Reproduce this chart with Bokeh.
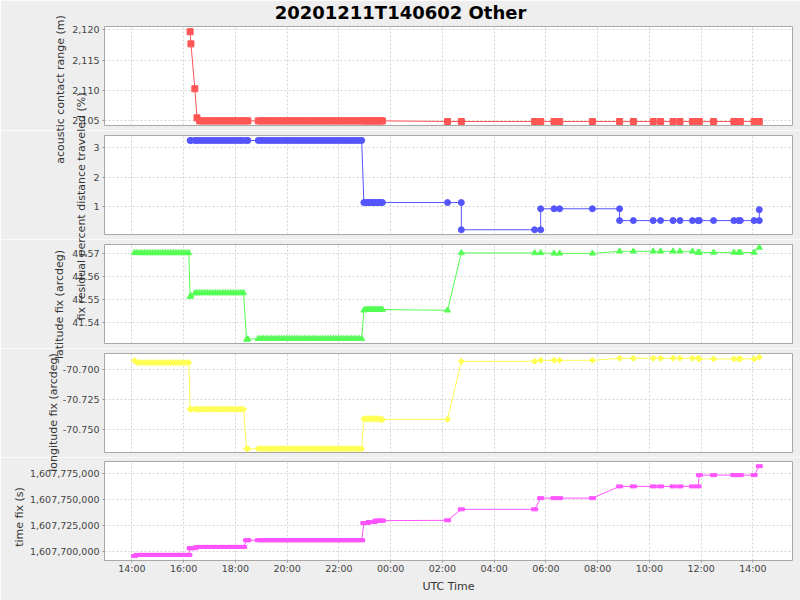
import pandas as pd
from math import pi
from bokeh.plotting import figure
from bokeh.layouts import column
from bokeh.models import (Range1d, LinearAxis, DatetimeAxis, Grid, SingleIntervalTicker,
                          NumeralTickFormatter, DatetimeTickFormatter, ColumnDataSource,
                          Label, GridBox)
from bokeh.embed import file_html
from bokeh.resources import INLINE

# ---------------- data ----------------
title_text = "20201211T140602 Other"
x_label = "UTC Time"
y_labels = ["acoustic contact range (m)",
            "fix residual percent distance traveled (%)",
            "latitude fix (arcdeg)",
            "longitude fix (arcdeg)",
            "time fix (s)"]

day1_times = [
    # A
    "14:06", "14:12", "14:18", "14:24", "14:30", "14:36", "14:42", "14:48", "14:54", "15:00",
    "15:06", "15:12", "15:18", "15:24", "15:30", "15:36", "15:42", "15:48", "15:54", "16:00",
    "16:06", "16:12",
    # B
    "16:15", "16:17", "16:26", "16:31", "16:37", "16:43", "16:49", "16:55", "17:01", "17:07",
    "17:13", "17:19", "17:25", "17:31", "17:37", "17:43", "17:49", "17:55", "18:01", "18:07",
    "18:13", "18:19",
    # C
    "18:26", "18:29",
    # D
    "18:53", "18:59", "19:05", "19:11", "19:17", "19:23", "19:29", "19:35", "19:41", "19:47",
    "19:53", "19:59", "20:05", "20:11", "20:17", "20:23", "20:29", "20:35", "20:41", "20:47",
    "20:53", "20:59", "21:05", "21:11", "21:17", "21:23", "21:29", "21:35", "21:41", "21:47",
    "21:53", "21:59", "22:05", "22:11", "22:17", "22:23", "22:29", "22:35", "22:41", "22:47",
    "22:53",
    # E
    "22:58", "23:02", "23:06", "23:10", "23:14", "23:18", "23:22", "23:26", "23:30", "23:34",
    "23:38", "23:41",
]
day2_times = [
    "02:12", "02:44", "05:34", "05:48", "06:19", "06:32", "07:48", "08:51", "09:23", "10:09",
    "10:26", "10:55", "11:11", "11:40", "11:53", "11:56", "12:29", "13:16", "13:27", "13:31",
    "14:03", "14:15",
]

range_m = [
    None, None, None, None, None, None, None, None, None, None,
    None, None, None, None, None, None, None, None, None, None,
    None, None,
    2119.7, 2117.7, 2110.3, 2105.5, 2105.0, 2105.0, 2105.0, 2105.0, 2105.0, 2105.0,
    2105.0, 2105.0, 2105.0, 2105.0, 2105.0, 2105.0, 2105.0, 2105.0, 2105.0, 2105.0,
    2105.0, 2105.0,
    2105.0, 2105.0,
    2105.0, 2105.0, 2105.0, 2105.0, 2105.0, 2105.0, 2105.0, 2105.0, 2105.0, 2105.0,
    2105.0, 2105.0, 2105.0, 2105.0, 2105.0, 2105.0, 2105.0, 2105.0, 2105.0, 2105.0,
    2105.0, 2105.0, 2105.0, 2105.0, 2105.0, 2105.0, 2105.0, 2105.0, 2105.0, 2105.0,
    2105.0, 2105.0, 2105.0, 2105.0, 2105.0, 2105.0, 2105.0, 2105.0, 2105.0, 2105.0,
    2105.0,
    2105.0, 2105.0, 2105.0, 2105.0, 2105.0, 2105.0, 2105.0, 2105.0, 2105.0, 2105.0,
    2105.0, 2105.0,
    2104.9, 2104.9, 2104.9, 2104.9, 2104.9, 2104.9, 2104.9, 2104.9, 2104.9, 2104.9,
    2104.9, 2104.9, 2104.9, 2104.9, 2104.9, 2104.9, 2104.9, 2104.9, 2104.9, 2104.9,
    2104.9, 2104.9,
]

pct = [
    None, None, None, None, None, None, None, None, None, None,
    None, None, None, None, None, None, None, None, None, None,
    None, None,
    3.24, 3.24, 3.24, 3.24, 3.24, 3.24, 3.24, 3.24, 3.24, 3.24,
    3.24, 3.24, 3.24, 3.24, 3.24, 3.24, 3.24, 3.24, 3.24, 3.24,
    3.24, 3.24,
    3.24, 3.24,
    3.24, 3.24, 3.24, 3.24, 3.24, 3.24, 3.24, 3.24, 3.24, 3.24,
    3.24, 3.24, 3.24, 3.24, 3.24, 3.24, 3.24, 3.24, 3.24, 3.24,
    3.24, 3.24, 3.24, 3.24, 3.24, 3.24, 3.24, 3.24, 3.24, 3.24,
    3.24, 3.24, 3.24, 3.24, 3.24, 3.24, 3.24, 3.24, 3.24, 3.24,
    3.24,
    1.14, 1.14, 1.14, 1.14, 1.14, 1.14, 1.14, 1.14, 1.14, 1.14,
    1.14, 1.14,
    1.14, 1.14, 0.22, 0.22, 0.93, 0.93, 0.93, 0.93, 0.53, 0.53,
    0.53, 0.53, 0.53, 0.53, 0.53, 0.53, 0.53, 0.53, 0.53, 0.53,
    0.53, 0.53,
]
pct_extra_times = ["02:44", "05:48", "08:51", "14:15"]
pct_extra = [0.22, 0.93, 0.53, 0.90]

lat = [
    41.5705, 41.5704, 41.5704, 41.5704, 41.5704, 41.5704, 41.5704, 41.5704, 41.5704, 41.5704,
    41.5704, 41.5704, 41.5704, 41.5704, 41.5704, 41.5704, 41.5704, 41.5704, 41.5704, 41.5704,
    41.5704, 41.5704,
    41.5512, 41.5515, 41.5527, 41.5528, 41.5528, 41.5528, 41.5528, 41.5528, 41.5528, 41.5528,
    41.5528, 41.5528, 41.5528, 41.5528, 41.5528, 41.5528, 41.5528, 41.5528, 41.5528, 41.5528,
    41.5528, 41.5528,
    41.5324, 41.5325,
    41.5327, 41.5327, 41.5327, 41.5327, 41.5327, 41.5327, 41.5327, 41.5327, 41.5327, 41.5327,
    41.5327, 41.5327, 41.5327, 41.5327, 41.5327, 41.5327, 41.5327, 41.5327, 41.5327, 41.5327,
    41.5327, 41.5327, 41.5327, 41.5327, 41.5327, 41.5327, 41.5327, 41.5327, 41.5327, 41.5327,
    41.5327, 41.5327, 41.5327, 41.5327, 41.5327, 41.5327, 41.5327, 41.5327, 41.5327, 41.5327,
    41.5327,
    41.5452, 41.5455, 41.5455, 41.5455, 41.5455, 41.5455, 41.5455, 41.5455, 41.5455, 41.5455,
    41.5455, 41.5455,
    41.5452, 41.5704, 41.5704, 41.5704, 41.5702, 41.5702, 41.5702, 41.5711, 41.5711, 41.5711,
    41.5711, 41.5711, 41.5711, 41.5711, 41.5706, 41.5706, 41.5706, 41.5706, 41.5706, 41.5706,
    41.5706, 41.5728,
]

lon = [
    -70.6924, -70.6941, -70.6941, -70.6941, -70.6941, -70.6941, -70.6941, -70.6941, -70.6941, -70.6941,
    -70.6941, -70.6941, -70.6941, -70.6941, -70.6941, -70.6941, -70.6941, -70.6941, -70.6941, -70.6941,
    -70.6941, -70.6941,
    -70.7328, -70.7328, -70.7328, -70.7328, -70.7328, -70.7328, -70.7328, -70.7328, -70.7328, -70.7328,
    -70.7328, -70.7328, -70.7328, -70.7328, -70.7328, -70.7328, -70.7328, -70.7328, -70.7328, -70.7328,
    -70.7328, -70.7328,
    -70.7657, -70.7657,
    -70.7657, -70.7657, -70.7657, -70.7657, -70.7657, -70.7657, -70.7657, -70.7657, -70.7657, -70.7657,
    -70.7657, -70.7657, -70.7657, -70.7657, -70.7657, -70.7657, -70.7657, -70.7657, -70.7657, -70.7657,
    -70.7657, -70.7657, -70.7657, -70.7657, -70.7657, -70.7657, -70.7657, -70.7657, -70.7657, -70.7657,
    -70.7657, -70.7657, -70.7657, -70.7657, -70.7657, -70.7657, -70.7657, -70.7657, -70.7657, -70.7657,
    -70.7657,
    -70.7408, -70.7408, -70.7408, -70.7408, -70.7408, -70.7408, -70.7408, -70.7408, -70.7408, -70.7408,
    -70.7414, -70.7414,
    -70.7412, -70.6930, -70.6930, -70.6922, -70.6922, -70.6922, -70.6922, -70.6905, -70.6905, -70.6905,
    -70.6905, -70.6905, -70.6905, -70.6905, -70.6905, -70.6910, -70.6910, -70.6910, -70.6910, -70.6910,
    -70.6910, -70.6896,
]

tfix = [
    1607695770, 1607696730, 1607696730, 1607696730, 1607696730, 1607696730, 1607696730, 1607696730, 1607696730, 1607696730,
    1607696730, 1607696730, 1607696730, 1607696730, 1607696730, 1607696730, 1607696730, 1607696730, 1607696730, 1607696730,
    1607696730, 1607696730,
    1607703170, 1607703170, 1607703170, 1607704420, 1607704420, 1607704420, 1607704420, 1607704420, 1607704420, 1607704420,
    1607704420, 1607704420, 1607704420, 1607704420, 1607704420, 1607704420, 1607704420, 1607704420, 1607704420, 1607704420,
    1607704420, 1607704420,
    1607710870, 1607710870,
    1607710870, 1607710870, 1607710870, 1607710870, 1607710870, 1607710870, 1607710870, 1607710870, 1607710870, 1607710870,
    1607710870, 1607710870, 1607710870, 1607710870, 1607710870, 1607710870, 1607710870, 1607710870, 1607710870, 1607710870,
    1607710870, 1607710870, 1607710870, 1607710870, 1607710870, 1607710870, 1607710870, 1607710870, 1607710870, 1607710870,
    1607710870, 1607710870, 1607710870, 1607710870, 1607710870, 1607710870, 1607710870, 1607710870, 1607710870, 1607710870,
    1607710870,
    1607727500, 1607727500, 1607727500, 1607728460, 1607728460, 1607728460, 1607728460, 1607729800, 1607729800, 1607729800,
    1607729800, 1607729800,
    1607730100, 1607740700, 1607740700, 1607751500, 1607751500, 1607751500, 1607751500, 1607762800, 1607762800, 1607762800,
    1607762800, 1607762800, 1607762800, 1607762800, 1607762800, 1607773700, 1607773700, 1607773700, 1607773700, 1607773700,
    1607773700, 1607782300,
]

# ---------------- build ----------------
times = ([pd.Timestamp("2020-12-11 " + t) for t in day1_times] +
         [pd.Timestamp("2020-12-12 " + t) for t in day2_times])
for s in (range_m, pct, lat, lon, tfix):
    assert len(s) == len(times), len(s)


def series(vals):
    xs = [t for t, v in zip(times, vals) if v is not None]
    ys = [v for v in vals if v is not None]
    return ColumnDataSource(dict(x=pd.to_datetime(xs).values, y=ys))


extra = {pd.Timestamp("2020-12-12 " + t): v for t, v in zip(pct_extra_times, pct_extra)}
px, py = [], []
for t, v in zip(times, pct):
    if v is None:
        continue
    px.append(t); py.append(v)
    if t in extra:
        px.append(t); py.append(extra[t])
pct_src = ColumnDataSource(dict(x=pd.to_datetime(px).values, y=py))

FONT = "DejaVu Sans"
BG = "#EEEEEE"
GRID = "#D4D4D4"
OUTLINE = "#A8A8A8"
W = 800
H = 600
FRAME_L, FRAME_R = 104, 792
RED, BLUE, GREEN, YELLOW, MAGENTA = "#FF5555", "#5555FF", "#55FF55", "#FFFF55", "#FF55FF"

xr = Range1d(pd.Timestamp("2020-12-11 12:56:30").to_pydatetime(),
             pd.Timestamp("2020-12-12 15:32:00").to_pydatetime())
xt = SingleIntervalTicker(interval=2 * 3600 * 1000, num_minor_ticks=0)


def make_panel(height, top, bottom, y0, y1, step, fmt):
    p = figure(width=W, height=height, x_range=xr, y_range=Range1d(y0, y1),
               x_axis_type=None, y_axis_type=None, toolbar_location=None,
               output_backend="svg", min_border_left=FRAME_L, min_border_right=W - FRAME_R,
               min_border_top=top, min_border_bottom=bottom,
               background_fill_color="white", border_fill_color=BG,
               outline_line_color=OUTLINE, outline_line_width=1)
    yt = SingleIntervalTicker(interval=step, num_minor_ticks=0)
    ax = LinearAxis(ticker=yt, formatter=NumeralTickFormatter(format=fmt),
                    axis_line_color=None, major_tick_line_color="#999999",
                    major_tick_in=0, major_tick_out=2, minor_tick_line_color=None,
                    major_label_standoff=3, major_label_text_font=FONT,
                    major_label_text_font_size="9.5px", major_label_text_color="#444444")
    p.add_layout(ax, "left")
    p.add_layout(Grid(dimension=1, ticker=yt, grid_line_color=GRID, grid_line_dash="2 2"), "center")
    p.add_layout(Grid(dimension=0, ticker=xt, grid_line_color=GRID, grid_line_dash="2 2"), "center")
    return p


# panel frames (page px): 26-125, 135-234, 244-343, 353-452, 461-560
p1 = make_panel(130, 26, 5, 2104.24, 2120.56, 5, "0,0")
s1 = series(range_m)
p1.line("x", "y", source=s1, color=RED, line_width=1)
p1.scatter("x", "y", source=s1, marker="square", size=6, fill_color=RED, line_color=RED, line_width=1)

p2 = make_panel(109, 5, 5, 0.06, 3.407, 1, "0")
p2.line("x", "y", source=pct_src, color=BLUE, line_width=1)
p2.scatter("x", "y", source=pct_src, marker="circle", size=6, fill_color=BLUE, line_color=BLUE, line_width=1)

p3 = make_panel(109, 5, 5, 41.5306, 41.5741, 0.01, "0.00")
s3 = series(lat)
p3.line("x", "y", source=s3, color=GREEN, line_width=1)
p3.scatter("x", "y", source=s3, marker="triangle", size=6, fill_color=GREEN, line_color=GREEN, line_width=1)

p4 = make_panel(109, 5, 5, -70.7688, -70.6865, 0.025, "0.000")
s4 = series(lon)
p4.line("x", "y", source=s4, color=YELLOW, line_width=1)
p4.scatter("x", "y", source=s4, marker="square", size=4.3, angle=pi / 4,
           fill_color=YELLOW, line_color=YELLOW, line_width=1)

p5 = make_panel(143, 4, 40, 1607691350, 1607786830, 25000, "0,0")
s5 = series(tfix)
p5.line("x", "y", source=s5, color=MAGENTA, line_width=1)
p5.rect("x", "y", source=s5, width=6, height=3, width_units="screen", height_units="screen",
        fill_color=MAGENTA, line_color=MAGENTA, line_width=1)
xax = DatetimeAxis(ticker=xt,
                   formatter=DatetimeTickFormatter(hours="%H:%M", hourmin="%H:%M", days="%H:%M",
                                                   minutes="%H:%M", minsec="%H:%M"),
                   axis_label=x_label, axis_label_text_font=FONT,
                   axis_label_text_font_size="11px", axis_label_text_font_style="normal",
                   axis_label_text_color="#333333", axis_label_standoff=3,
                   axis_line_color=None, major_tick_line_color="#999999",
                   major_tick_in=0, major_tick_out=2, minor_tick_line_color=None,
                   major_label_standoff=0, major_label_text_font=FONT,
                   major_label_text_font_size="9.5px", major_label_text_color="#444444")
p5.add_layout(xax, "below")

panels = column(p1, p2, p3, p4, p5, spacing=0)

# transparent full-page overlay carrying the title and the (overflowing) y-axis labels;
# its frame is the whole canvas, so data units equal page pixels (y from the bottom).
ov = figure(width=W, height=H, x_range=Range1d(0, W), y_range=Range1d(0, H),
            x_axis_type=None, y_axis_type=None, toolbar_location=None, output_backend="svg",
            min_border=0, background_fill_alpha=0, border_fill_alpha=0, outline_line_color=None)
ov.add_layout(Label(x=400, y=H - 12, text=title_text, text_align="center", text_baseline="middle",
                    text_font=FONT, text_font_size="18px", text_font_style="bold",
                    text_color="#000000"))
label_pos = [(59.5, 89), (81, 206), (59, 304), (52.5, 412), (18.5, 516.5)]
for txt, (lx, ly) in zip(y_labels, label_pos):
    ov.add_layout(Label(x=lx, y=H - ly, text=txt, angle=pi / 2, text_align="center",
                        text_baseline="middle", text_font=FONT, text_font_size="11px",
                        text_color="#333333"))

grid = GridBox(children=[(panels, 0, 0), (ov, 0, 0)])

open("out.html", "w").write(file_html(grid, INLINE))
